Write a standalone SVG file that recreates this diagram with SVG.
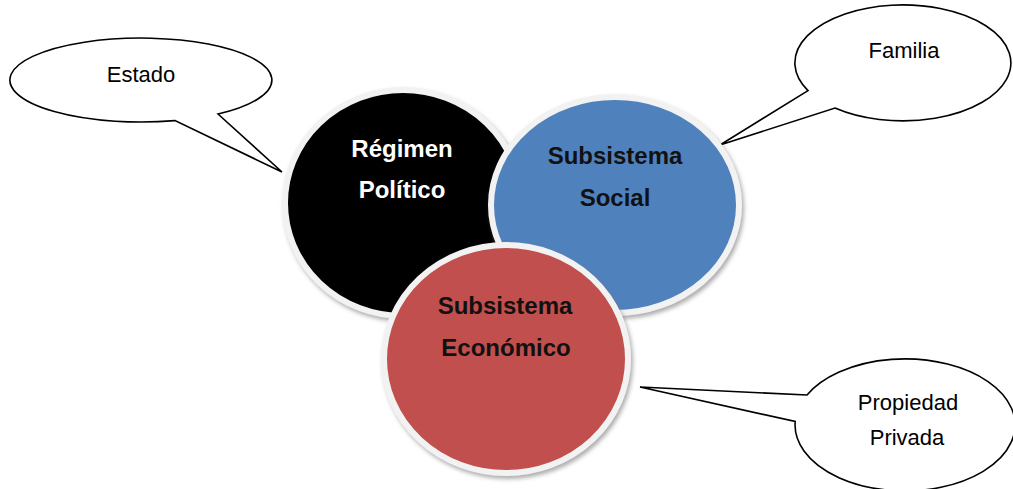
<svg xmlns="http://www.w3.org/2000/svg" width="1013" height="489" viewBox="0 0 1013 489">
<style>
.callout{fill:#fff;stroke:#000;stroke-width:1.6;stroke-linejoin:miter}
.ct{font-family:"Liberation Sans",Arial,sans-serif;font-size:22px;fill:#000;text-anchor:middle}
.circ{stroke:#f2f2f2;stroke-width:6;filter:url(#sh)}
.lbl{font-family:"Liberation Sans",Arial,sans-serif;font-size:24px;font-weight:bold;text-anchor:middle}
</style>
<defs>
<filter id="sh" x="-20%" y="-20%" width="140%" height="140%">
<feDropShadow dx="2" dy="3" stdDeviation="2" flood-color="#777" flood-opacity="0.6"/>
</filter>
</defs>
<rect width="1013" height="489" fill="#fff"/>
<g id="connectors">
<path id="callout-estado" class="callout" d="M 218 114 L 282 172 L 175 120.6 A 131 42 0 1 1 218 114 Z"/>
<path id="callout-familia" class="callout" d="M 808 90.6 L 720 145 L 835 108 A 108 58 0 1 0 808 90.6 Z"/>
<path id="callout-propiedad" class="callout" d="M 807 395 L 640 387 L 795.2 421.5 A 110 66 0 1 0 807 395 Z"/>
</g>
<g id="estado"><text class="ct" x="141" y="82">Estado</text></g>
<g id="familia"><text class="ct" x="904" y="58">Familia</text></g>
<g id="propiedad"><text class="ct" x="908" y="410">Propiedad</text><text class="ct" x="907" y="445">Privada</text></g>
<g id="regimen">
<ellipse class="circ" cx="403" cy="203" rx="118" ry="113" fill="#000"/>
<text class="lbl" x="402" y="157" fill="#fff">Régimen</text>
<text class="lbl" x="402" y="198" fill="#fff">Político</text>
</g>
<g id="social">
<ellipse class="circ" cx="615" cy="205" rx="124" ry="108" fill="#4F81BD"/>
<text class="lbl" x="615" y="164" fill="#111">Subsistema</text>
<text class="lbl" x="615" y="206" fill="#111">Social</text>
</g>
<g id="economico">
<ellipse class="circ" cx="506" cy="359" rx="122" ry="114" fill="#C0504D"/>
<text class="lbl" x="505" y="314" fill="#111">Subsistema</text>
<text class="lbl" x="506" y="356" fill="#111">Económico</text>
</g>
</svg>
